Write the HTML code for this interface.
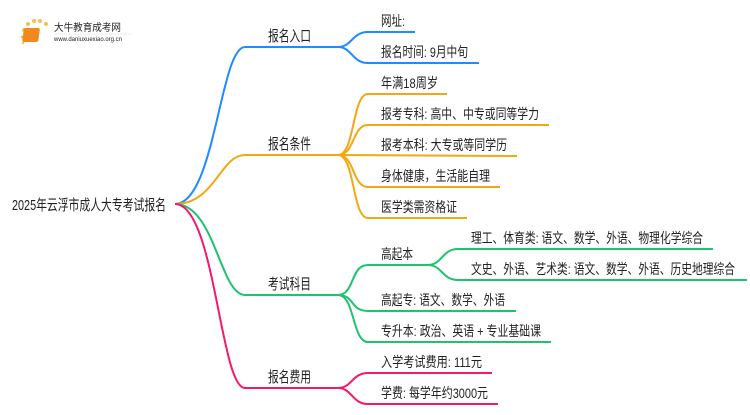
<!DOCTYPE html>
<html><head><meta charset="utf-8"><style>
body{margin:0;background:#fff;}
svg text{font-family:"Liberation Sans","Noto Sans CJK SC",sans-serif;fill:#222;}
</style></head><body>
<svg width="750" height="410" viewBox="0 0 750 410" xmlns="http://www.w3.org/2000/svg">
<g>
<circle cx="24" cy="30" r="2" fill="#f7c04a"/><circle cx="28" cy="24" r="2" fill="#f7c04a"/><circle cx="34" cy="21" r="2" fill="#f7c04a"/><circle cx="40" cy="21" r="2" fill="#f7c04a"/><circle cx="46" cy="24" r="2" fill="#f7c04a"/><circle cx="22" cy="37" r="1.5" fill="#f7c04a"/><circle cx="23" cy="43" r="1.2" fill="#f7c04a"/>
<rect x="28" y="28" width="16" height="14" rx="2" fill="#f08a1c" transform="skewX(-8)"/>
<text x="54" y="31" font-size="10" fill="#444" textLength="67" lengthAdjust="spacingAndGlyphs">大牛教育成考网</text>
<text x="54" y="41" font-size="6" fill="#666" textLength="68" lengthAdjust="spacingAndGlyphs">www.daniuxuexiao.org.cn</text>
<line x1="54" y1="34" x2="132" y2="34" stroke="#ddd" stroke-width="0.6"/>
</g>
<g fill="none" stroke-width="2">
<g stroke="#1e8bff">
<path d="M175,204 C215,204 220,47 245,47 L338,47"/>
<path d="M338,47 C352,47 352,32 368,32 L415,32"/>
<path d="M338,47 C352,47 352,63 368,63 L479,63"/>
</g>
<g stroke="#f5a713">
<path d="M175,204 C215,204 220,155 245,155 L338,155"/>
<path d="M338,155 C355,155 352,94 368,94 L447,94"/>
<path d="M338,155 C355,155 352,125 368,125 L549,125"/>
<path d="M338,155 L517,156"/>
<path d="M338,155 C355,155 352,187 368,187 L500,187"/>
<path d="M338,155 C355,155 352,218 368,218 L467,218"/>
</g>
<g stroke="#1ec36e">
<path d="M175,204 C215,204 220,295 245,295 L338,295"/>
<path d="M338,295 C355,295 350,265 368,265 L428,265"/>
<path d="M428,265 C442,265 442,249 458,249 L713,249"/>
<path d="M428,265 C442,265 442,280 458,280 L747,280"/>
<path d="M338,295 C355,295 350,311 368,311 L516,311"/>
<path d="M338,295 C355,295 352,342 368,342 L551,342"/>
</g>
<g stroke="#f5186e">
<path d="M175,204 C215,204 220,388 245,388 L338,388"/>
<path d="M338,388 C352,388 352,373 368,373 L492,373"/>
<path d="M338,388 C352,388 352,404 368,404 L498,404"/>
</g>
</g>
<g lengthAdjust="spacingAndGlyphs">
<text x="12" y="210" font-size="15" textLength="154" lengthAdjust="spacingAndGlyphs">2025年云浮市成人大专考试报名</text>
<g font-size="15">
<text x="268" y="41" textLength="43" lengthAdjust="spacingAndGlyphs">报名入口</text>
<text x="268" y="149" textLength="43" lengthAdjust="spacingAndGlyphs">报名条件</text>
<text x="268" y="289" textLength="43" lengthAdjust="spacingAndGlyphs">考试科目</text>
<text x="268" y="382" textLength="43" lengthAdjust="spacingAndGlyphs">报名费用</text>
</g>
<g font-size="14">
<text x="381" y="26" textLength="24" lengthAdjust="spacingAndGlyphs">网址:</text>
<text x="381" y="57" textLength="87" lengthAdjust="spacingAndGlyphs">报名时间: 9月中旬</text>
<text x="381" y="88" textLength="57" lengthAdjust="spacingAndGlyphs">年满18周岁</text>
<text x="381" y="119" textLength="158" lengthAdjust="spacingAndGlyphs">报考专科: 高中、中专或同等学力</text>
<text x="381" y="150" textLength="126" lengthAdjust="spacingAndGlyphs">报考本科: 大专或等同学历</text>
<text x="381" y="181" textLength="109" lengthAdjust="spacingAndGlyphs">身体健康，生活能自理</text>
<text x="381" y="212" textLength="76" lengthAdjust="spacingAndGlyphs">医学类需资格证</text>
<text x="381" y="259" textLength="32" lengthAdjust="spacingAndGlyphs">高起本</text>
<text x="471" y="243" textLength="232" lengthAdjust="spacingAndGlyphs">理工、体育类: 语文、数学、外语、物理化学综合</text>
<text x="471" y="274" textLength="264" lengthAdjust="spacingAndGlyphs">文史、外语、艺术类: 语文、数学、外语、历史地理综合</text>
<text x="381" y="305" textLength="124" lengthAdjust="spacingAndGlyphs">高起专: 语文、数学、外语</text>
<text x="381" y="336" textLength="160" lengthAdjust="spacingAndGlyphs">专升本: 政治、英语 + 专业基础课</text>
<text x="381" y="367" textLength="101" lengthAdjust="spacingAndGlyphs">入学考试费用: 111元</text>
<text x="381" y="398" textLength="107" lengthAdjust="spacingAndGlyphs">学费: 每学年约3000元</text>
</g>
</g>
</svg>
</body></html>
